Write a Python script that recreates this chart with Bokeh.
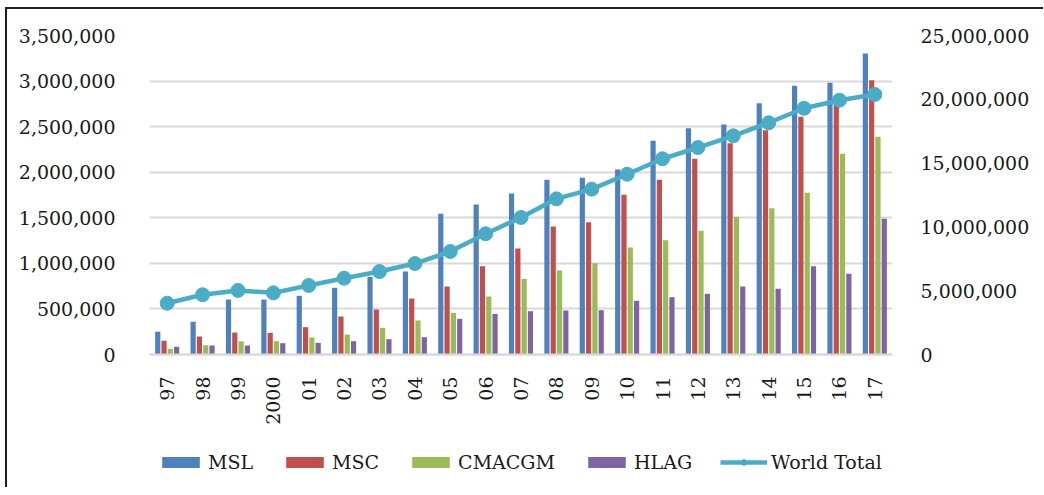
from bokeh.plotting import figure
from bokeh.models import (ColumnDataSource, FactorRange, Range1d, LinearAxis, FixedTicker,
                          NumeralTickFormatter, Legend, LegendItem)
from bokeh.transform import dodge
from bokeh.embed import file_html
from bokeh.resources import INLINE
import math

years = ["97", "98", "99", "2000", "01", "02", "03", "04", "05", "06", "07",
         "08", "09", "10", "11", "12", "13", "14", "15", "16", "17"]
msl = [249000, 359000, 603000, 603000, 644000, 732000, 852000, 911000, 1544000, 1646000, 1766000,
       1917000, 1939000, 2030000, 2345000, 2483000, 2524000, 2757000, 2948000, 2981000, 3303000]
msc = [150000, 197000, 241000, 238000, 300000, 417000, 494000, 614000, 746000, 969000, 1163000,
       1404000, 1452000, 1752000, 1917000, 2147000, 2318000, 2461000, 2608000, 2750000, 3010000]
cmacgm = [62000, 102000, 146000, 146000, 187000, 219000, 293000, 373000, 457000, 636000, 830000,
          922000, 1002000, 1174000, 1254000, 1357000, 1511000, 1605000, 1774000, 2202000, 2389000]
hlag = [84000, 99000, 99000, 124000, 128000, 146000, 168000, 190000, 392000, 446000, 475000,
        483000, 486000, 589000, 629000, 666000, 746000, 721000, 969000, 885000, 1489000]
world_total = [4020000, 4680000, 5020000, 4830000, 5410000, 5980000, 6500000, 7130000, 8070000,
               9460000, 10740000, 12200000, 12960000, 14130000, 15340000, 16220000, 17140000,
               18160000, 19300000, 19930000, 20380000]
series_names = ["MSL", "MSC", "CMACGM", "HLAG"]
series_colors = ["#4F81BD", "#C0504D", "#9BBB59", "#8064A2"]
left_ticks = [0, 500000, 1000000, 1500000, 2000000, 2500000, 3000000, 3500000]
right_ticks = [0, 5000000, 10000000, 15000000, 20000000, 25000000]
LEFT_MAX = 3500000
RIGHT_MAX = 25000000

FONT = "DejaVu Serif"
TXT = "#1a1a1a"
GRID = "#d9d9d9"

# value area is 319 px tall; the frame continues 133 px below zero to hold labels and legend
VALUE_H = 319
BELOW_H = 133
left_min = -LEFT_MAX * BELOW_H / VALUE_H
right_min = -RIGHT_MAX * BELOW_H / VALUE_H

src = ColumnDataSource(dict(year=years, MSL=msl, MSC=msc, CMACGM=cmacgm, HLAG=hlag, world=world_total))

p = figure(x_range=FactorRange(*years, range_padding=0), y_range=Range1d(left_min, LEFT_MAX),
           frame_width=743, frame_height=VALUE_H + BELOW_H,
           min_border_left=142, min_border_right=151, min_border_top=26, min_border_bottom=0,
           output_backend="svg", toolbar_location=None,
           margin=(7, 0, 0, 5),
           styles={"border-left": "2.5px solid #1e1e1e", "border-top": "2.5px solid #1e1e1e"})
p.extra_y_ranges = {"right": Range1d(right_min, RIGHT_MAX)}

step = 0.178
width = 0.147
bar_renderers = []
for i, (name, col) in enumerate(zip(series_names, series_colors)):
    r = p.vbar(x=dodge("year", (i - 1.5) * step, range=p.x_range), top=name, bottom=0, width=width,
               source=src, fill_color=col, line_color=None)
    bar_renderers.append(r)

ln = p.line(x="year", y="world", source=src, y_range_name="right", line_color="#4BACC6", line_width=4.5)
sc = p.scatter(x="year", y="world", source=src, y_range_name="right", size=14,
               fill_color="#4BACC6", line_color="#4BACC6")

# left axis
ya = p.yaxis[0]
ya.ticker = FixedTicker(ticks=left_ticks)
ya.formatter = NumeralTickFormatter(format="0,0")
ya.axis_line_color = None
ya.major_tick_line_color = None
ya.minor_tick_line_color = None
ya.major_label_standoff = 28
ya.major_label_text_font = FONT
ya.major_label_text_font_size = "19px"
ya.major_label_text_color = TXT

ra = LinearAxis(y_range_name="right", ticker=FixedTicker(ticks=right_ticks),
                formatter=NumeralTickFormatter(format="0,0"))
ra.axis_line_color = None
ra.major_tick_line_color = None
ra.minor_tick_line_color = None
ra.major_label_standoff = 22
ra.major_label_text_font = FONT
ra.major_label_text_font_size = "19px"
ra.major_label_text_color = TXT
p.add_layout(ra, "right")

xa = p.xaxis[0]
xa.fixed_location = 0
xa.axis_line_color = GRID
xa.axis_line_width = 2
xa.major_tick_line_color = None
xa.minor_tick_line_color = None
xa.major_tick_out = 0
xa.major_tick_in = 0
xa.minor_tick_out = 0
xa.major_label_orientation = math.pi / 2
xa.major_label_standoff = 22
xa.major_label_text_font = FONT
xa.major_label_text_font_size = "19px"
xa.major_label_text_color = TXT

p.xgrid.grid_line_color = None
p.ygrid.ticker = FixedTicker(ticks=left_ticks)
p.ygrid.grid_line_color = GRID
p.ygrid.grid_line_width = 2
p.outline_line_color = None

items = [LegendItem(label=n, renderers=[r]) for n, r in zip(series_names, bar_renderers)]
items.append(LegendItem(label="World Total", renderers=[ln, sc]))
legend = Legend(items=items, orientation="horizontal", location=(8, 14),
                glyph_width=47, glyph_height=14, spacing=28, label_standoff=4,
                padding=0, margin=0, border_line_color=None, background_fill_alpha=0,
                label_text_font=FONT, label_text_font_size="19px", label_text_color=TXT,
                label_height=14)
p.add_layout(legend, "center")

open("out.html", "w").write(file_html(p, INLINE))
